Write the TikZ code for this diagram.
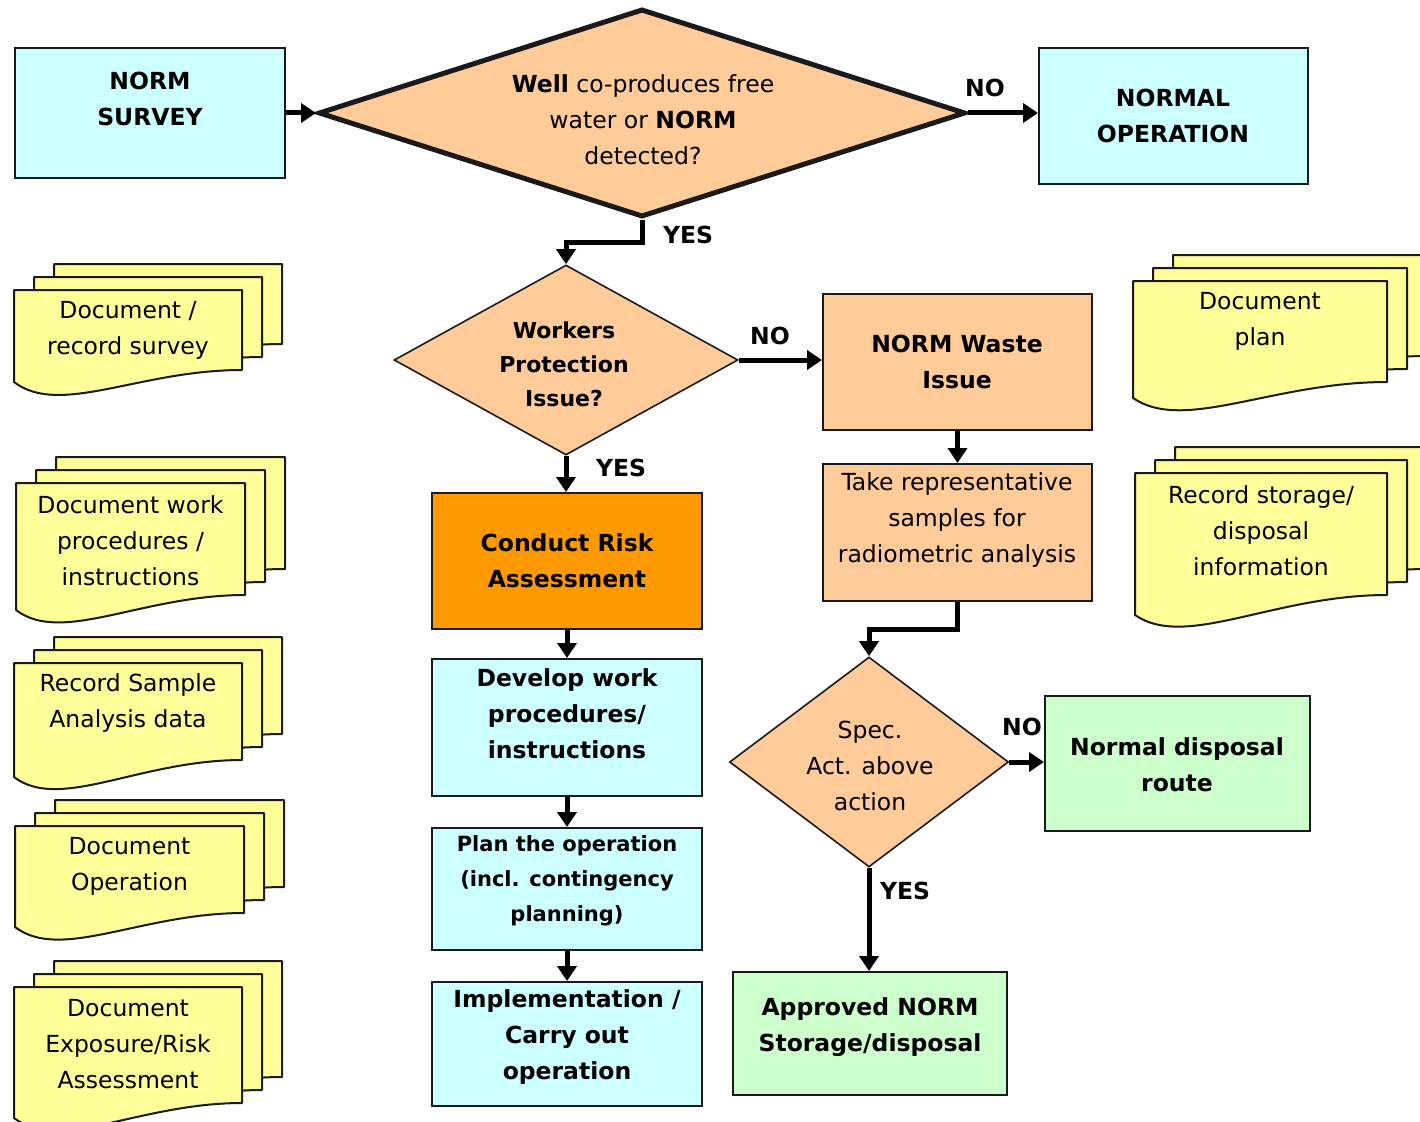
\documentclass[tikz,border=0pt]{standalone}
\usepackage{fontspec}
\setmainfont{DejaVu Sans}
\usetikzlibrary{arrows.meta,shapes.geometric}
\definecolor{cyanbox}{HTML}{CCFFFF}
\definecolor{peach}{HTML}{FFCC99}
\definecolor{orangebox}{HTML}{FF9900}
\definecolor{greenbox}{HTML}{CCFFCC}
\definecolor{docyellow}{HTML}{FFFF99}
\definecolor{edge}{HTML}{1A1A1A}
\tikzset{
  box/.style={draw=edge, line width=2pt, rectangle, inner sep=0pt},
  dia/.style={draw=edge, line width=1.6pt, diamond, inner sep=0pt, fill=peach},
  txt/.style={align=center, inner sep=0pt, font=\fontsize{23.5}{36}\selectfont},
  btxt/.style={align=center, inner sep=0pt, font=\fontsize{23.5}{36}\selectfont\bfseries},
  lbl/.style={inner sep=0pt, font=\fontsize{23.5}{28}\selectfont\bfseries},
  arr/.style={line width=5pt, draw=black, -{Triangle[length=15pt,width=19pt]}},
  docsheet/.style={draw=edge, line width=2pt, fill=docyellow, line join=round},
}
\newcommand\mdoc[8]{%
  \foreach \i in {2,1,0}{%
    \pgfmathsetmacro\mdXa{#2+20*\i}%
    \pgfmathsetmacro\mdYa{#3-13*\i}%
    \pgfmathsetmacro\mdXb{\mdXa+#4}%
    \pgfmathsetmacro\mdYb{\mdYa+#5}%
    \pgfmathsetmacro\mdYc{\mdYa+#5-#6}%
    \pgfmathsetmacro\mdXca{\mdXa+0.55*#4}%
    \pgfmathsetmacro\mdXcb{\mdXa+0.2*#4}%
    \pgfmathsetmacro\mdYcb{\mdYb+35}%
    \draw[docsheet] (\mdXa,\mdYa) -- (\mdXb,\mdYa) -- (\mdXb,\mdYc)
      .. controls (\mdXca,\mdYc) and (\mdXcb,\mdYcb) .. (\mdXa,\mdYb) -- cycle;
  }%
  \node[txt] (#1) at (#2+#4/2,#3+#7) {#8};
}
\begin{document}
\begin{tikzpicture}[x=1pt,y=-1pt]
\useasboundingbox (0,0) rectangle (1420,1121);
\fill[white] (0,0) rectangle (1420,1121);
\clip (0,0) rectangle (1420,1121);

% ---- documents
\mdoc{doc1}{14}{290}{228}{92}{12}{40}{Document /\\record survey}
\mdoc{doc2}{16}{483}{229}{127}{15}{58}{Document work\\procedures /\\instructions}
\mdoc{doc3}{14}{663}{228}{114}{17}{40}{Record Sample\\Analysis data}
\mdoc{doc4}{15}{826}{229}{101}{14}{40}{Document\\Operation}
\mdoc{doc5}{14}{987}{228}{131}{15}{57}{Document\\Exposure/Risk\\Assessment}
\mdoc{doc6}{1133}{281}{254}{117}{16}{40}{Document\\plan}
\mdoc{doc7}{1135}{473}{252}{142}{20}{58}{Record storage/\\disposal\\information}

% ---- boxes
\node[box, fill=cyanbox, minimum width=270pt, minimum height=130pt] (survey) at (150,113) {};
\node[btxt] (survey-t) at (150,99) {NORM\\SURVEY};
\node[box, fill=cyanbox, minimum width=269pt, minimum height=136pt] (normalop) at (1173.5,116) {};
\node[btxt] (normalop-t) at (1173,116) {NORMAL\\OPERATION};

\node[dia, line width=5pt, minimum width=647pt, minimum height=208pt] (top) at (642,113) {};
\node[txt] (top-t) at (643,120) {\textbf{Well} co-produces free\\water or \textbf{NORM}\\detected?};

\node[dia, minimum width=344pt, minimum height=190pt] (d2) at (566,360) {};
\node[align=center, inner sep=0pt, font=\fontsize{22}{34}\selectfont\bfseries] (d2-t) at (564,364) {Workers\\Protection\\Issue?};

\node[box, fill=peach, minimum width=269pt, minimum height=136pt] (waste) at (957.5,362) {};
\node[btxt] (waste-t) at (957,362) {NORM Waste\\Issue};
\node[box, fill=peach, minimum width=269pt, minimum height=137pt] (take) at (957.5,532.5) {};
\node[txt] (take-t) at (957,520) {Take representative\\samples for\\radiometric analysis};

\node[dia, minimum width=279pt, minimum height=210pt] (spec) at (869,762) {};
\node[txt] (spec-t) at (870,766) {Spec.\\Act. above\\action};

\node[box, fill=greenbox, minimum width=265pt, minimum height=135pt] (nd) at (1177.5,763.5) {};
\node[btxt] (nd-t) at (1177,765) {Normal disposal\\route};
\node[box, fill=greenbox, minimum width=274pt, minimum height=123pt] (approved) at (870,1033.5) {};
\node[btxt] (approved-t) at (870,1027) {Approved NORM\\Storage/disposal};

\node[box, fill=orangebox, minimum width=270pt, minimum height=136pt] (risk) at (567,561) {};
\node[btxt] (risk-t) at (567,561) {Conduct Risk\\Assessment};
\node[box, fill=cyanbox, minimum width=270pt, minimum height=137pt] (develop) at (567,727.5) {};
\node[btxt] (develop-t) at (567,714) {Develop work\\procedures/\\instructions};
\node[box, fill=cyanbox, minimum width=270pt, minimum height=122pt] (plan) at (567,889) {};
\node[align=center, inner sep=0pt, font=\fontsize{21}{35}\selectfont\bfseries] (plan-t) at (567,881) {Plan the operation\\(incl. contingency\\planning)};
\node[box, fill=cyanbox, minimum width=270pt, minimum height=124pt] (impl) at (567,1044) {};
\node[btxt] (impl-t) at (567,1037) {Implementation /\\Carry out\\operation};

% ---- connectors
\draw[arr] (survey.east) -- (top.west);
\draw[arr] (top.east) -- (top.east -| normalop.west);
\draw[arr] (top.south) -- ++(0,23) -| (d2.north);
\draw[arr] (d2.east) -- (d2.east -| waste.west);
\draw[arr] (d2.south) -- (d2.south |- risk.north);
\draw[arr] (risk.south) -- (develop.north);
\draw[arr] (develop.south) -- (plan.north);
\draw[arr] (plan.south) -- (impl.north);
\draw[arr] (waste.south) -- (take.north);
\draw[arr] (take.south) -- ++(0,27) -| (spec.north);
\draw[arr] (spec.east) -- (spec.east -| nd.west);
\draw[arr] (spec.south) -- (spec.south |- approved.north);

% ---- labels
\node[lbl] (noA) at (985,88) {NO};
\node[lbl] (yesA) at (688,235) {YES};
\node[lbl] (noB) at (770,336) {NO};
\node[lbl] (yesB) at (621,468) {YES};
\node[lbl] (noC) at (1022,727) {NO};
\node[lbl] (yesC) at (905,891) {YES};
\end{tikzpicture}
\end{document}
